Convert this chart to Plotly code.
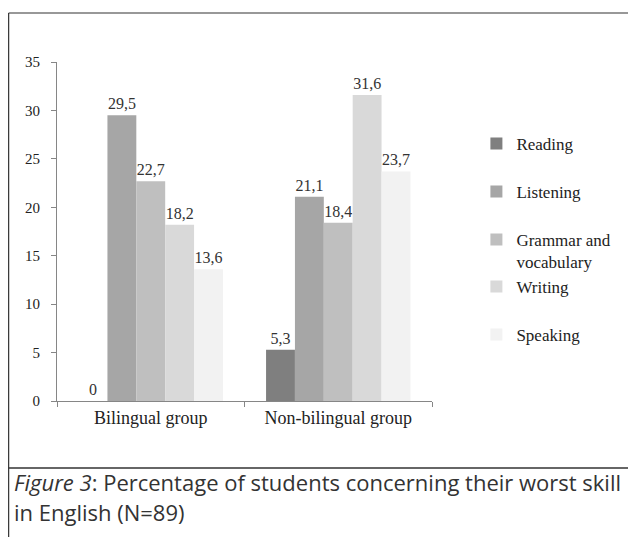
import plotly.graph_objects as go

groups = ["Bilingual group", "Non-bilingual group"]
skills = ["Reading", "Listening", "Grammar and<br>vocabulary", "Writing", "Speaking"]
reading = [0, 5.3]
listening = [29.5, 21.1]
grammar = [22.7, 18.4]
writing = [18.2, 31.6]
speaking = [13.6, 23.7]
colors = ["#7f7f7f", "#a6a6a6", "#bfbfbf", "#d9d9d9", "#f2f2f2"]
legend_rows = [144, 192, 251, 287, 335]  # pixel rows of legend entries

serif = "Liberation Serif, Times New Roman, serif"

# pixel -> paper helpers (plot area 57..437 x, 62..401 y)
L, R, T, B = 57, 437, 62, 401
def px(x):
    return (x - L) / (R - L)
def py(y):
    return (B - y) / (B - T)

fig = go.Figure()
legends = {}
for i, (name, vals, col) in enumerate(zip(skills, [reading, listening, grammar, writing, speaking], colors)):
    key = "legend" if i == 0 else f"legend{i + 1}"
    fig.add_trace(go.Bar(
        x=groups, y=vals, name=name, legend=key,
        marker=dict(color=col, line=dict(width=0)),
        text=[f"{v:g}".replace(".", ",") for v in vals],
        textposition="outside", cliponaxis=False,
        textfont=dict(family=serif, size=16, color="#333333"),
    ))
    legends[key] = dict(
        x=px(482), xanchor="left", y=py(legend_rows[i]), yanchor="middle",
        font=dict(family=serif, size=17, color="#222222"),
        itemwidth=30, valign="top", bgcolor="rgba(0,0,0,0)",
    )

fig.update_layout(
    width=628, height=537,
    margin=dict(l=L, r=628 - R, t=T, b=537 - B),
    paper_bgcolor="white", plot_bgcolor="white",
    barmode="group", bargap=0.23, bargroupgap=0,
    showlegend=True,
    font=dict(family=serif, size=15, color="#222222"),
    xaxis=dict(
        showline=True, linecolor="#868686", linewidth=1,
        ticks="outside", tickson="boundaries", ticklen=5, tickcolor="#868686",
        tickfont=dict(family=serif, size=18, color="#222222"),
        showgrid=False, zeroline=False,
    ),
    yaxis=dict(
        range=[0, 35], dtick=5,
        showline=True, linecolor="#868686", linewidth=1,
        ticks="outside", ticklen=5, tickcolor="#868686", ticklabelstandoff=8,
        tickfont=dict(family=serif, size=15, color="#222222"),
        showgrid=False, zeroline=False,
    ),
    shapes=[
        # outer frame: top, left, separator
        dict(type="line", xref="paper", yref="paper", x0=px(8), x1=px(640), y0=py(13), y1=py(13),
             line=dict(color="#333333", width=1.2)),
        dict(type="line", xref="paper", yref="paper", x0=px(8), x1=px(8), y0=py(13), y1=py(545),
             line=dict(color="#333333", width=1.2)),
        dict(type="line", xref="paper", yref="paper", x0=px(8), x1=px(640), y0=py(468), y1=py(468),
             line=dict(color="#333333", width=1.5)),
    ],
    annotations=[
        dict(text="<i>Figure 3</i>: Percentage of students concerning their worst skill",
             xref="paper", yref="paper", x=px(11), y=py(482), xanchor="left", yanchor="middle",
             showarrow=False, font=dict(family="Open Sans, sans-serif", size=22, color="#333333")),
        dict(text="in English (N=89)",
             xref="paper", yref="paper", x=px(11), y=py(512), xanchor="left", yanchor="middle",
             showarrow=False, font=dict(family="Open Sans, sans-serif", size=22, color="#333333")),
    ],
)
fig.update_layout(**legends)

fig.write_html("out.html", config={"displayModeBar": False},
               post_script="document.body.style.margin='0';")
